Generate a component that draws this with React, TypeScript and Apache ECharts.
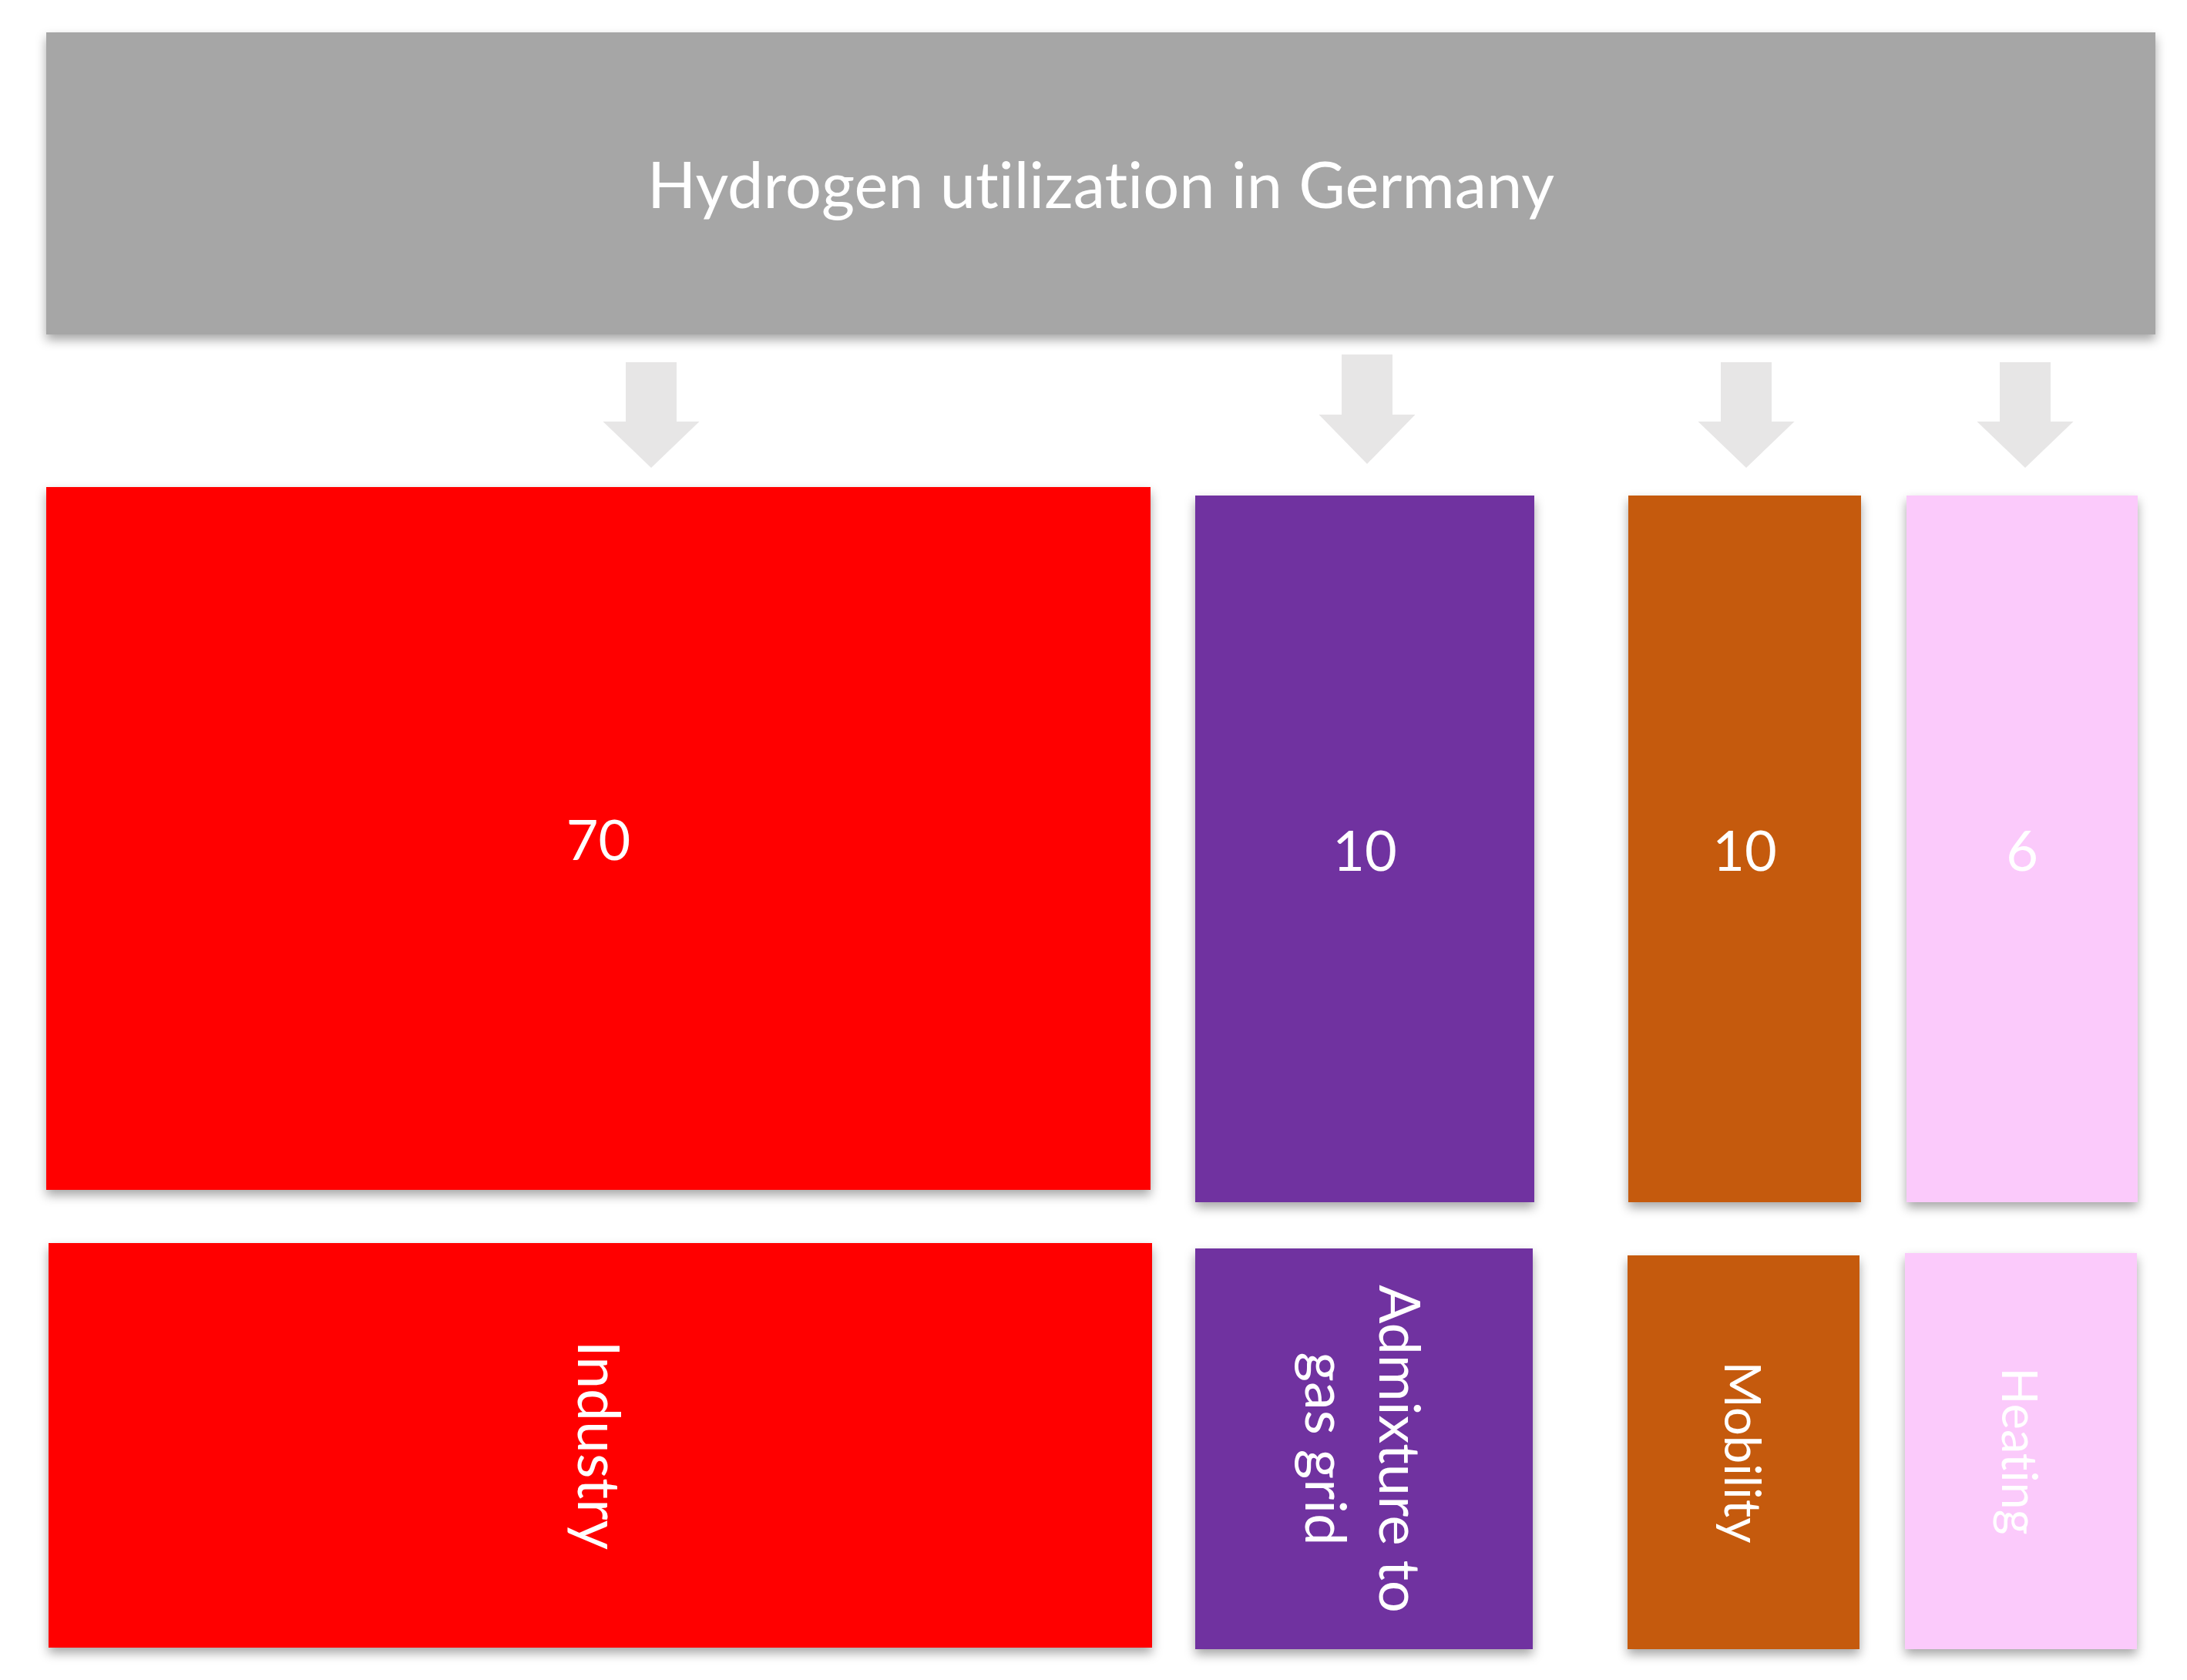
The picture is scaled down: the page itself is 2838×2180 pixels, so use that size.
import React, { useEffect, useRef } from 'react';
import * as echarts from 'echarts';

// ---- data ----
const TITLE = 'Hydrogen utilization in Germany';
const categories = ['Industry', 'Admixture to\ngas grid', 'Mobility', 'Heating'];
const values = [70, 10, 10, 6];

// ---- styles ----
const colors = ['#FF0000', '#7030A0', '#C55A11', '#FBCAFB'];
const labelFontSizes = [75, 74, 65, 63];
const HEADER_COLOR = '#A6A6A6';
const ARROW_COLOR = '#E7E6E6';
const FONT = 'Lato';

// ---- layout (canvas units on hidden axes) ----
const CANVAS_W = 2838;
const CANVAS_H = 2180;
const headerX = [60, 2797];
const headerY = [42, 434];
const valueBoxX = [[60, 1493], [1551, 1991], [2113, 2415], [2474, 2774]];
const valueBoxY = [[632, 1544], [643, 1560], [643, 1560], [643, 1560]];
const labelBoxX = [[63, 1495], [1551, 1989], [2112, 2413], [2472, 2773]];
const labelBoxY = [[1613, 2138], [1620, 2140], [1629, 2140], [1626, 2140]];
const arrowX = [845, 1774, 2266, 2628];
const arrowY = [[470, 547, 607], [460, 538, 602], [470, 547, 607], [470, 547, 607]];
const ARROW_SHAFT = 66;
const ARROW_HEAD = 125;

export default function App() {
  const ref = useRef<HTMLDivElement>(null);
  useEffect(() => {
    document.body.style.margin = '0';
    const chart = echarts.init(ref.current!, null, { renderer: 'svg' });
    const shadow = {
      shadowBlur: 14,
      shadowOffsetX: 0,
      shadowOffsetY: 7,
      shadowColor: 'rgba(0,0,0,0.35)',
    };
    const renderItem = (params: any, api: any) => {
      const i = params.dataIndex;
      const c = (x: number, y: number) => api.coord([x, y]);
      const p0 = c(valueBoxX[i][0], valueBoxY[i][0]);
      const p1 = c(valueBoxX[i][1], valueBoxY[i][1]);
      const q0 = c(labelBoxX[i][0], labelBoxY[i][0]);
      const q1 = c(labelBoxX[i][1], labelBoxY[i][1]);
      const ax = arrowX[i];
      const ay = arrowY[i];
      const hs = ARROW_SHAFT / 2;
      const hh = ARROW_HEAD / 2;
      const pts = [
        c(ax - hs, ay[0]), c(ax + hs, ay[0]), c(ax + hs, ay[1]), c(ax + hh, ay[1]),
        c(ax, ay[2]), c(ax - hh, ay[1]), c(ax - hs, ay[1]),
      ];
      return {
        type: 'group',
        children: [
          { type: 'polygon', shape: { points: pts }, style: { fill: ARROW_COLOR } },
          {
            type: 'rect',
            shape: { x: p0[0], y: p0[1], width: p1[0] - p0[0], height: p1[1] - p0[1] },
            style: { fill: colors[i], ...shadow },
          },
          {
            type: 'text',
            x: (p0[0] + p1[0]) / 2,
            y: (p0[1] + p1[1]) / 2,
            style: {
              text: String(api.value(1)),
              fill: '#ffffff',
              fontSize: 72,
              fontFamily: FONT,
              align: 'center',
              verticalAlign: 'middle',
            },
          },
          {
            type: 'rect',
            shape: { x: q0[0], y: q0[1], width: q1[0] - q0[0], height: q1[1] - q0[1] },
            style: { fill: colors[i], ...shadow },
          },
          {
            type: 'text',
            x: (q0[0] + q1[0]) / 2,
            y: (q0[1] + q1[1]) / 2,
            rotation: -Math.PI / 2,
            style: {
              text: categories[i],
              fill: '#ffffff',
              fontSize: labelFontSizes[i],
              lineHeight: 96,
              fontFamily: FONT,
              align: 'center',
              verticalAlign: 'middle',
            },
          },
        ],
      };
    };

    chart.setOption({
      animation: false,
      backgroundColor: '#ffffff',
      grid: { left: 0, right: 0, top: 0, bottom: 0 },
      xAxis: { type: 'value', min: 0, max: CANVAS_W, show: false },
      yAxis: { type: 'value', min: 0, max: CANVAS_H, inverse: true, show: false },
      graphic: [
        {
          type: 'rect',
          left: headerX[0],
          top: headerY[0],
          shape: { width: headerX[1] - headerX[0], height: headerY[1] - headerY[0] },
          style: { fill: HEADER_COLOR, ...shadow },
          z: 10,
        },
        {
          type: 'text',
          x: (headerX[0] + headerX[1]) / 2,
          y: (headerY[0] + headerY[1]) / 2,
          style: {
            text: TITLE,
            fill: '#ffffff',
            fontSize: 83,
            fontFamily: FONT,
            align: 'center',
            verticalAlign: 'middle',
          },
          z: 11,
        },
      ],
      series: [
        {
          type: 'custom',
          coordinateSystem: 'cartesian2d',
          renderItem,
          data: categories.map((name, i) => ({ name, value: [i, values[i]] })),
        },
      ],
    });
    return () => chart.dispose();
  }, []);
  return (
    <>
      <style>{'svg text { font-variant-ligatures: none; font-feature-settings: "liga" 0; }'}</style>
      <div
        ref={ref}
        style={{ position: 'absolute', left: 0, top: 0, width: CANVAS_W, height: CANVAS_H }}
      />
    </>
  );
}
